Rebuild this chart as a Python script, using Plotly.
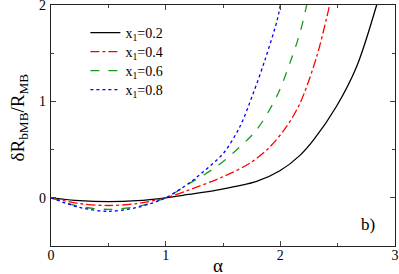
import plotly.graph_objects as go

# Data
labels = ["x<sub>1</sub>=0.2", "x<sub>1</sub>=0.4", "x<sub>1</sub>=0.6", "x<sub>1</sub>=0.8"]

alpha_02 = [0, 0.25, 0.5, 0.75, 1.0, 1.2, 1.445, 1.793, 1.996, 2.171, 2.29, 2.49, 2.665, 2.84]
val_02 = [0, -0.03, -0.04, -0.03, 0, 0.035, 0.08, 0.17, 0.28, 0.44, 0.6, 0.95, 1.36, 2.0]

alpha_04 = [0, 0.25, 0.5, 0.75, 1.0, 1.212, 1.502, 1.735, 1.91, 2.055, 2.171, 2.316, 2.43]
val_04 = [0, -0.06, -0.08, -0.06, 0, 0.085, 0.22, 0.36, 0.53, 0.74, 0.98, 1.46, 2.0]

alpha_06 = [0, 0.25, 0.5, 0.75, 1.0, 1.212, 1.445, 1.648, 1.793, 1.968, 2.084, 2.171, 2.23]
val_06 = [0, -0.09, -0.12, -0.09, 0, 0.152, 0.325, 0.53, 0.705, 1.05, 1.40, 1.71, 2.0]

alpha_08 = [0, 0.25, 0.5, 0.75, 1.0, 1.212, 1.328, 1.502, 1.648, 1.764, 1.866, 1.973, 2.0]
val_08 = [0, -0.1, -0.14, -0.1, 0, 0.16, 0.27, 0.46, 0.74, 1.085, 1.43, 1.845, 2.0]

series = [
    (alpha_02, val_02, labels[0], "black", "solid"),
    (alpha_04, val_04, labels[1], "red", "dashdot"),
    (alpha_06, val_06, labels[2], "#1a9a1a", "dash"),
    (alpha_08, val_08, labels[3], "blue", "dot"),
]

font_family = "Liberation Serif, Times New Roman, serif"
legend_ids = ["legend", "legend2", "legend3", "legend4"]
legend_rows = [0.884, 0.805, 0.726, 0.647]

fig = go.Figure()
for (xs, ys, name, color, dash), lid in zip(series, legend_ids):
    fig.add_trace(go.Scatter(
        x=xs, y=ys, name=name, mode="lines", legend=lid,
        line=dict(color=color, dash=dash, width=1.3, shape="spline", smoothing=0.9),
    ))

legend_common = dict(
    x=0.1, xanchor="left", yanchor="middle",
    bgcolor="rgba(0,0,0,0)", borderwidth=0,
    font=dict(family=font_family, size=14),
    itemwidth=30,
)
legend_layout = {lid: dict(legend_common, y=row) for lid, row in zip(legend_ids, legend_rows)}

fig.update_layout(
    width=399, height=274,
    margin=dict(l=51, r=4, t=5, b=28),
    paper_bgcolor="white", plot_bgcolor="white",
    font=dict(family=font_family, size=14, color="black"),
    showlegend=True,
    annotations=[
        dict(text="b)", x=0.948, y=0.091, xref="paper", yref="paper",
             xanchor="right", yanchor="middle", showarrow=False,
             font=dict(family=font_family, size=17)),
        dict(text="α", x=0.485, y=-0.079, xref="paper", yref="paper",
             xanchor="center", yanchor="middle", showarrow=False,
             font=dict(family=font_family, size=19)),
        dict(text="δR<sub>bMB</sub>/R<sub>MB</sub>", x=-0.092, y=0.535,
             xref="paper", yref="paper", textangle=-90,
             xanchor="center", yanchor="middle", showarrow=False,
             font=dict(family=font_family, size=19)),
    ],
    **legend_layout,
)

fig.update_xaxes(
    range=[0, 3], tickvals=[0, 1, 2, 3], ticks="inside", ticklen=5,
    showline=True, linecolor="#222", linewidth=1.2, mirror="allticks",
    showgrid=False, zeroline=False, automargin=False,
    minor=dict(ticks="inside", dtick=0.5, ticklen=3, showgrid=False),
    tickfont=dict(family=font_family, size=14), ticklabelstandoff=-4,
    ticklabeloverflow="allow",
)
fig.update_yaxes(
    range=[-0.5, 2], tickvals=[0, 1, 2], ticks="inside", ticklen=5,
    showline=True, linecolor="#222", linewidth=1.2, mirror="allticks",
    showgrid=False, zeroline=False, automargin=False,
    minor=dict(ticks="inside", dtick=0.5, ticklen=3, showgrid=False),
    tickfont=dict(family=font_family, size=14), ticklabelstandoff=1,
    ticklabeloverflow="allow",
)

fig.write_html("out.html", post_script="document.body.style.margin='0';",
               config={"displayModeBar": False})
